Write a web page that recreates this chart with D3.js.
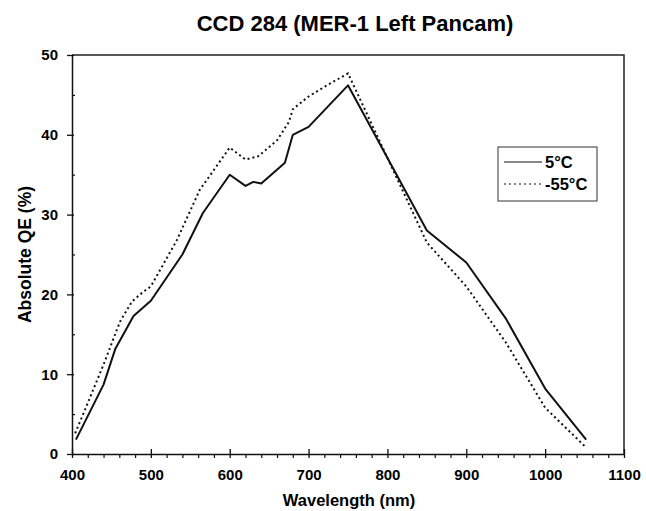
<!DOCTYPE html>
<html>
<head>
<meta charset="utf-8">
<script src="https://cdn.jsdelivr.net/npm/d3@7"></script>
<style>
  html, body { margin: 0; padding: 0; background: #fff; }
  svg { display: block; font-family: "Liberation Sans", Arial, sans-serif; }
</style>
</head>
<body>
<svg id="chart" width="646" height="511"></svg>
<script>
// Quantum efficiency of CCD 284 at two operating temperatures
const wavelengthWarm = [405, 440, 455, 478, 500, 540, 566, 600, 620, 630, 640, 670, 680, 700, 750, 850, 900, 950, 1000, 1052];
const qeWarm         = [1.8, 8.7, 13.2, 17.3, 19.2, 25.0, 30.2, 35.0, 33.6, 34.1, 33.9, 36.5, 40.0, 41.0, 46.2, 28.0, 24.0, 17.0, 8.2, 1.8];

const wavelengthCold = [404, 415, 425, 440, 452, 461, 476, 490, 500, 533, 562, 600, 620, 636, 660, 675, 680, 700, 720, 750, 850, 900, 950, 1000, 1050];
const qeCold         = [2.6, 5.2, 7.6, 11.2, 14.3, 16.6, 19.1, 20.3, 21.0, 26.8, 33.1, 38.4, 36.9, 37.3, 39.3, 41.6, 43.2, 44.8, 46.0, 47.7, 26.5, 21.0, 14.0, 5.8, 1.0];

const xTicks = [400, 500, 600, 700, 800, 900, 1000, 1100];
const xMinorTicks = [420, 440, 460, 480, 520, 540, 560, 580, 620, 640, 660, 680, 720, 740, 760, 780,
                     820, 840, 860, 880, 920, 940, 960, 980, 1020, 1040, 1060, 1080];
const yTicks = [0, 10, 20, 30, 40, 50];
const yMinorTicks = [5, 15, 25, 35, 45];
const seriesNames = ["5°C", "-55°C"];

const svg = d3.select("#chart");
const plot = { left: 72, right: 624, top: 55, bottom: 454 };

const x = d3.scaleLinear().domain([400, 1100]).range([plot.left, plot.right]);
const y = d3.scaleLinear().domain([0, 50]).range([plot.bottom, plot.top]);

const labelFont = g => g.selectAll(".tick text")
  .attr("font-size", 15).attr("font-weight", "bold")
  .attr("font-family", "Liberation Sans, Arial, sans-serif").attr("fill", "#000");

// Title
svg.append("text")
  .attr("x", 355).attr("y", 31)
  .attr("text-anchor", "middle")
  .attr("font-size", 22).attr("font-weight", "bold")
  .text("CCD 284 (MER-1 Left Pancam)");

// Plot frame (top and right edges)
svg.append("path")
  .attr("d", `M${plot.left},${plot.top}H${plot.right}V${plot.bottom}`)
  .attr("fill", "none").attr("stroke", "#222").attr("stroke-width", 1.5);

// X axis: minor ticks every 20 nm below the line, major ticks crossing it
svg.append("g").attr("transform", `translate(0,${plot.bottom})`)
  .call(d3.axisBottom(x).tickValues(xMinorTicks).tickSize(4).tickFormat(""))
  .call(g => g.select(".domain").remove())
  .call(g => g.selectAll("line").attr("stroke", "#111").attr("stroke-width", 1.2));

svg.append("g").attr("transform", `translate(0,${plot.bottom})`)
  .call(d3.axisBottom(x).tickValues(xTicks).tickSizeInner(4).tickSizeOuter(0).tickPadding(11).tickFormat(d3.format("d")))
  .call(g => g.select(".domain").attr("stroke", "#111").attr("stroke-width", 1.5))
  .call(g => g.selectAll(".tick line").attr("y1", -5).attr("stroke", "#111").attr("stroke-width", 1.3))
  .call(labelFont);

// Y axis: minor ticks every 5 % inside, major ticks crossing the line
svg.append("g").attr("transform", `translate(${plot.left},0)`)
  .call(d3.axisRight(y).tickValues(yMinorTicks).tickSize(3).tickFormat(""))
  .call(g => g.select(".domain").remove())
  .call(g => g.selectAll("line").attr("stroke", "#111").attr("stroke-width", 1.2));

svg.append("g").attr("transform", `translate(${plot.left},0)`)
  .call(d3.axisLeft(y).tickValues(yTicks).tickSizeInner(5).tickSizeOuter(0).tickPadding(9).tickFormat(d3.format("d")))
  .call(g => g.select(".domain").attr("stroke", "#111").attr("stroke-width", 1.5))
  .call(g => g.selectAll(".tick line").attr("x1", 2).attr("stroke", "#111").attr("stroke-width", 1.3))
  .call(labelFont);

// Axis titles
svg.append("text")
  .attr("x", 349).attr("y", 506)
  .attr("text-anchor", "middle")
  .attr("font-size", 16.5).attr("font-weight", "bold")
  .text("Wavelength (nm)");

svg.append("text")
  .attr("transform", `translate(31,${(plot.top + plot.bottom) / 2}) rotate(-90)`)
  .attr("text-anchor", "middle")
  .attr("font-size", 17.5).attr("font-weight", "bold")
  .text("Absolute QE (%)");

// Curves
const line = d3.line().x(d => x(d[0])).y(d => y(d[1]));

svg.append("path")
  .datum(d3.zip(wavelengthCold, qeCold))
  .attr("d", line)
  .attr("fill", "none").attr("stroke", "#111")
  .attr("stroke-width", 2).attr("stroke-dasharray", "2,3");

svg.append("path")
  .datum(d3.zip(wavelengthWarm, qeWarm))
  .attr("d", line)
  .attr("fill", "none").attr("stroke", "#111")
  .attr("stroke-width", 2).attr("stroke-linejoin", "round");

// Legend
const legend = svg.append("g");
legend.append("rect")
  .attr("x", 498).attr("y", 147).attr("width", 99).attr("height", 54)
  .attr("fill", "#fff").attr("stroke", "#333").attr("stroke-width", 1);
const rows = [{ name: seriesNames[0], dash: null, y: 162 }, { name: seriesNames[1], dash: "2,3", y: 184 }];
rows.forEach(r => {
  legend.append("line")
    .attr("x1", 504).attr("x2", 542).attr("y1", r.y).attr("y2", r.y)
    .attr("stroke", "#111").attr("stroke-width", 1.2)
    .attr("stroke-dasharray", r.dash);
  legend.append("text")
    .attr("x", 545).attr("y", r.y + 6)
    .attr("font-size", 16.5).attr("font-weight", "bold")
    .text(r.name);
});
</script>
</body>
</html>
